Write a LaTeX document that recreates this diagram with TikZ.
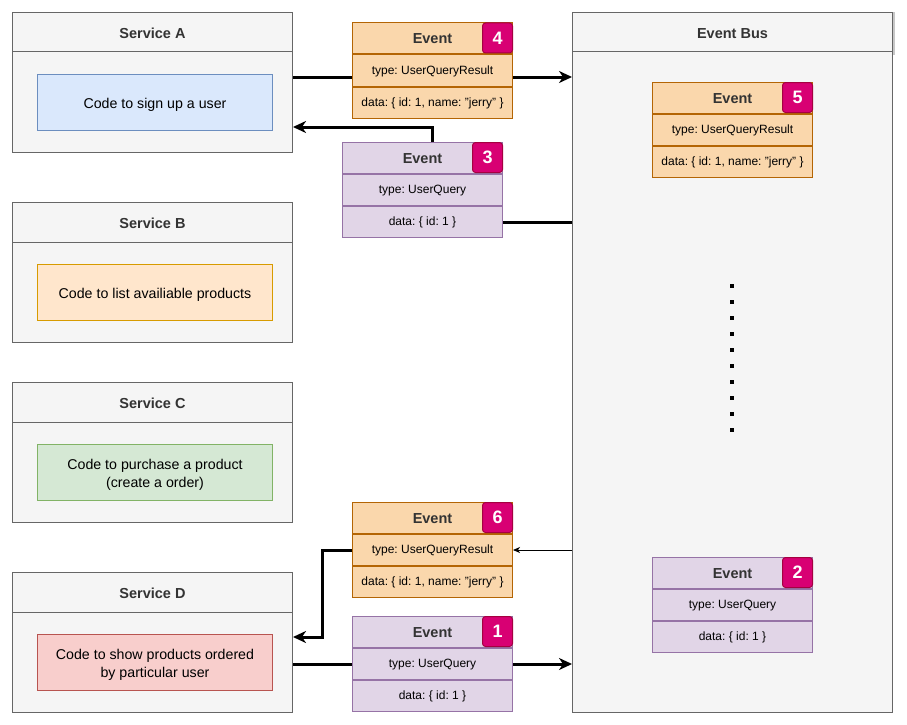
\documentclass[tikz,border=0pt]{standalone}
\usepackage{fontspec}
\setmainfont{Liberation Sans}
\usetikzlibrary{arrows.meta}
\frenchspacing

\definecolor{svcfill}{HTML}{F5F5F5}
\definecolor{svcline}{HTML}{666666}
\definecolor{titletext}{HTML}{333333}
\definecolor{bluefill}{HTML}{DAE8FC}
\definecolor{blueline}{HTML}{6C8EBF}
\definecolor{yellowfill}{HTML}{FFE6CC}
\definecolor{yellowline}{HTML}{D79B00}
\definecolor{greenfill}{HTML}{D5E8D4}
\definecolor{greenline}{HTML}{82B366}
\definecolor{redfill}{HTML}{F8CECC}
\definecolor{redline}{HTML}{B85450}
\definecolor{orfill}{HTML}{FAD7AC}
\definecolor{orline}{HTML}{B46504}
\definecolor{pufill}{HTML}{E1D5E7}
\definecolor{puline}{HTML}{9673A6}
\definecolor{badgefill}{HTML}{D80073}
\definecolor{badgeline}{HTML}{A50040}

\tikzset{
  svcbox/.style={draw=svcline, fill=svcfill, line width=1pt, minimum width=280pt,
    minimum height=140pt, anchor=north west, inner sep=0pt},
  svctitle/.style={font=\fontsize{14.5}{17}\selectfont\bfseries, text=titletext, inner sep=0pt},
  codebox/.style={line width=1pt, minimum width=235pt, minimum height=56pt, anchor=north west,
    inner sep=0pt},
  codetext/.style={align=center, font=\fontsize{14.2}{18}\selectfont, inner sep=0pt},
  evrow/.style={line width=1pt, minimum width=160pt, minimum height=31pt, anchor=north west,
    inner sep=0pt, font=\fontsize{12}{14}\selectfont, text height=0.72em, text depth=0pt},
  orrow/.style={evrow, draw=orline, fill=orfill},
  purow/.style={evrow, draw=puline, fill=pufill},
  evtitle/.style={font=\fontsize{14.5}{17}\selectfont\bfseries, text=titletext, inner sep=0pt},
  badge/.style={draw=badgeline, fill=badgefill, line width=1pt, rounded corners=3pt,
    minimum size=30pt, inner sep=0pt, anchor=north east, text=white,
    font=\fontsize{18}{20}\selectfont\bfseries},
  flowline/.style={line width=3pt},
  flow/.style={line width=3pt, -{Stealth[length=13pt, width=12pt, inset=4pt]}},
  thinflow/.style={line width=1pt, -{Stealth[length=7pt, width=6pt, inset=2pt]}},
  divider/.style={draw=svcline, line width=1pt}
}

\begin{document}
\begin{tikzpicture}[x=1pt, y=-1pt]
\useasboundingbox (0,0) rectangle (907,725);

% ---------- Services ----------
\node[svcbox] (sA) at (12,12) {};
\draw[divider] ([yshift=-40pt]sA.north west) -- ([yshift=-40pt]sA.north east);
\node[svctitle] (sAT) at ([yshift=-21.5pt]sA.north) {Service A};
\node[codebox, fill=bluefill, draw=blueline] (cA) at (37,74) {};
\node[codetext] (cAT) at ([yshift=-2pt]cA.center) {Code to sign up a user};

\node[svcbox] (sB) at (12,202) {};
\draw[divider] ([yshift=-40pt]sB.north west) -- ([yshift=-40pt]sB.north east);
\node[svctitle] (sBT) at ([yshift=-21.5pt]sB.north) {Service B};
\node[codebox, fill=yellowfill, draw=yellowline] (cB) at (37,264) {};
\node[codetext] (cBT) at ([yshift=-2pt]cB.center) {Code to list availiable products};

\node[svcbox] (sC) at (12,382) {};
\draw[divider] ([yshift=-40pt]sC.north west) -- ([yshift=-40pt]sC.north east);
\node[svctitle] (sCT) at ([yshift=-21.5pt]sC.north) {Service C};
\node[codebox, fill=greenfill, draw=greenline] (cC) at (37,444) {};
\node[codetext] (cCT) at ([yshift=-2pt]cC.center) {Code to purchase a product\\(create a order)};

\node[svcbox] (sD) at (12,572) {};
\draw[divider] ([yshift=-40pt]sD.north west) -- ([yshift=-40pt]sD.north east);
\node[svctitle] (sDT) at ([yshift=-21.5pt]sD.north) {Service D};
\node[codebox, fill=redfill, draw=redline] (cD) at (37,634) {};
\node[codetext] (cDT) at ([yshift=-2pt]cD.center) {Code to show products ordered\\by particular user};

% ---------- Event bus ----------
\node[svcbox, minimum width=320pt, minimum height=700pt] (bus) at (572,12) {};
\draw[divider] ([yshift=-40pt]bus.north west) -- ([yshift=-40pt]bus.north east);
\node[svctitle] (busT) at ([yshift=-21.5pt]bus.north) {Event Bus};
\fill[black!22] (893,12) rectangle (895,55);
\foreach \i in {0,...,9}
  \fill (730,284+16*\i) rectangle ++(4,4);

% ---------- Events ----------
% Event 4
\node[orrow] (e4h) at (352,22.5) {};
\node[evtitle] at ([yshift=-0.5pt]e4h.center) {Event};
\node[orrow] (e4t) at (e4h.south west) {type: UserQueryResult};
\node[orrow] (e4d) at (e4t.south west) {data: \{ id: 1, name: "jerry" \}};
\node[badge] (b4) at (e4h.north east) {4};

% Event 3
\node[purow] (e3h) at (342,142) {};
\node[evtitle] at ([yshift=-0.5pt]e3h.center) {Event};
\node[purow] (e3t) at (e3h.south west) {type: UserQuery};
\node[purow] (e3d) at (e3t.south west) {data: \{ id: 1 \}};
\node[badge] (b3) at (e3h.north east) {3};

% Event 5
\node[orrow] (e5h) at (652,82) {};
\node[evtitle] at ([yshift=-0.5pt]e5h.center) {Event};
\node[orrow] (e5t) at (e5h.south west) {type: UserQueryResult};
\node[orrow] (e5d) at (e5t.south west) {data: \{ id: 1, name: "jerry" \}};
\node[badge] (b5) at (e5h.north east) {5};

% Event 6
\node[orrow] (e6h) at (352,502) {};
\node[evtitle] at ([yshift=-0.5pt]e6h.center) {Event};
\node[orrow] (e6t) at (e6h.south west) {type: UserQueryResult};
\node[orrow] (e6d) at (e6t.south west) {data: \{ id: 1, name: "jerry" \}};
\node[badge] (b6) at (e6h.north east) {6};

% Event 1
\node[purow] (e1h) at (352,616) {};
\node[evtitle] at ([yshift=-0.5pt]e1h.center) {Event};
\node[purow] (e1t) at (e1h.south west) {type: UserQuery};
\node[purow] (e1d) at (e1t.south west) {data: \{ id: 1 \}};
\node[badge] (b1) at (e1h.north east) {1};

% Event 2
\node[purow] (e2h) at (652,557) {};
\node[evtitle] at ([yshift=-0.5pt]e2h.center) {Event};
\node[purow] (e2t) at (e2h.south west) {type: UserQuery};
\node[purow] (e2d) at (e2t.south west) {data: \{ id: 1 \}};
\node[badge] (b2) at (e2h.north east) {2};

% ---------- Connectors ----------
\coordinate (l4) at (0,77);
\draw[flowline] (sA.east |- l4) -- (e4t.west |- l4);
\draw[flow] (e4t.east |- l4) -- (bus.west |- l4);

\coordinate (k3) at (432.7,127);
\draw[flow] (e3h.north -| k3) -- (k3) -- (sA.east |- k3);
\draw[flowline] (e3d.east) -- (bus.west |- e3d.east);

\draw[thinflow] (bus.west |- e6t.east) -- (e6t.east);
\coordinate (k6) at (322.7,637);
\draw[flow] (e6t.west) -| (k6) -- (sD.east |- k6);

\draw[flowline] (sD.east |- e1t.west) -- (e1t.west);
\draw[flow] (e1t.east) -- (bus.west |- e1t.east);
\end{tikzpicture}
\end{document}
